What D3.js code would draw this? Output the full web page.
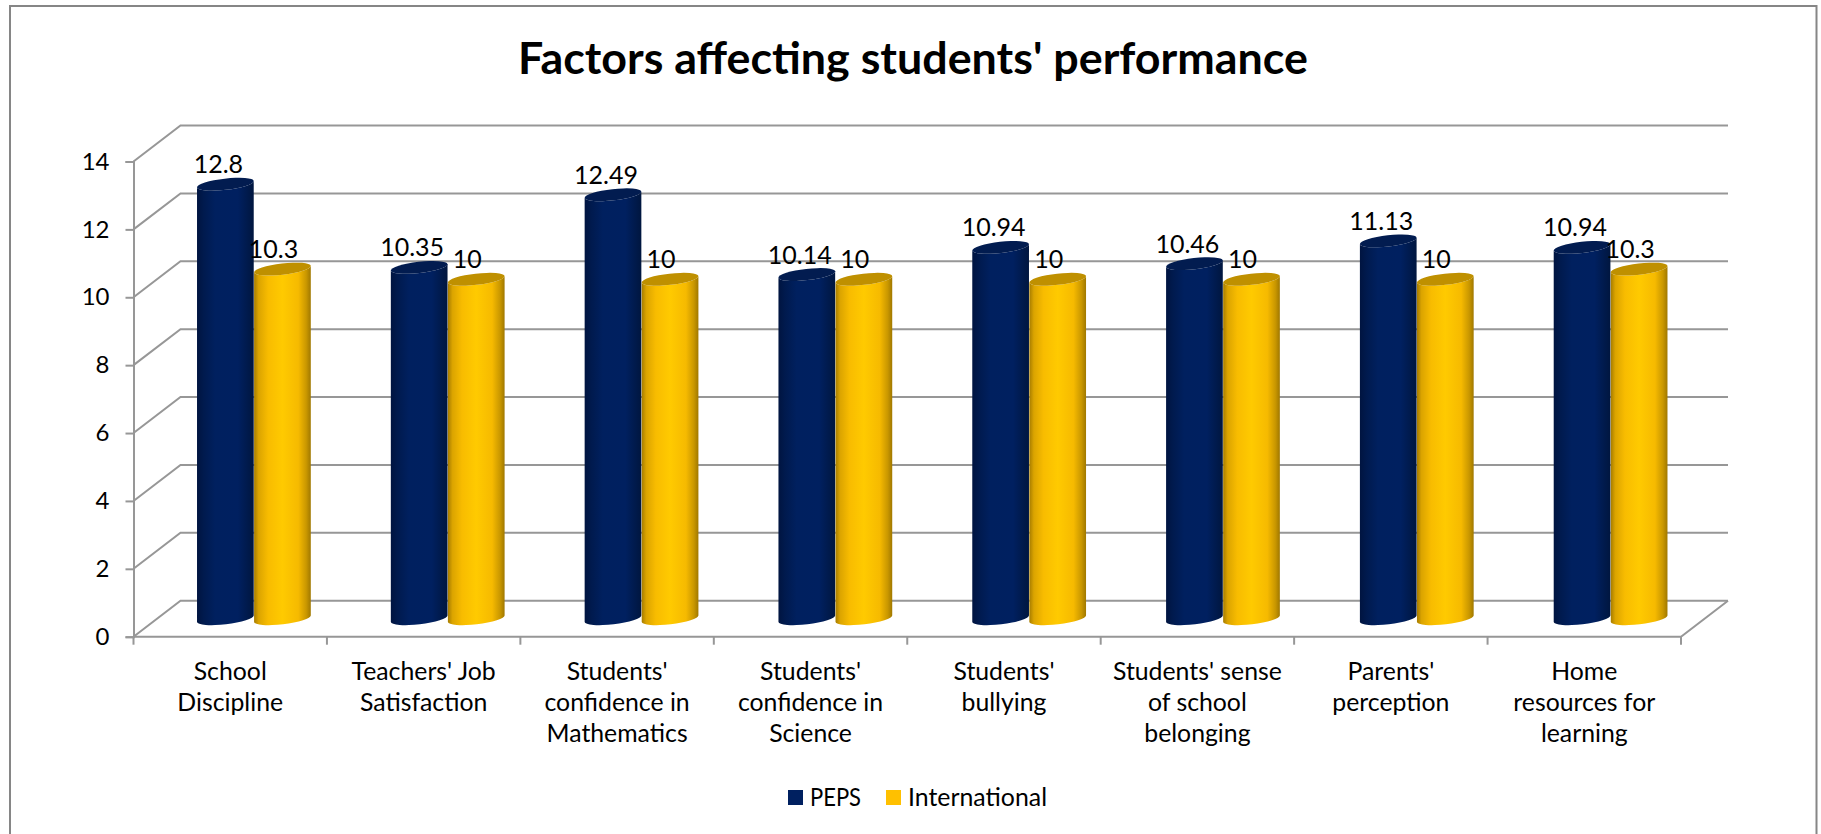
<!DOCTYPE html>
<html>
<head>
<meta charset="utf-8">
<script src="https://cdn.jsdelivr.net/npm/d3@7"></script>
<style>
    html, body { margin: 0; padding: 0; background: #fff; }
    svg { display: block; }
    text { font-family: Lato, "Open Sans", sans-serif; fill: #000; }
</style>
</head>
<body>
<svg id="chart"></svg>
<script>
const categories = [
    "School\nDiscipline",
    "Teachers' Job\nSatisfaction",
    "Students'\nconfidence in\nMathematics",
    "Students'\nconfidence in\nScience",
    "Students'\nbullying",
    "Students' sense\nof school\nbelonging",
    "Parents'\nperception",
    "Home\nresources for\nlearning",
]
const peps = [12.8, 10.35, 12.49, 10.14, 10.94, 10.46, 11.13, 10.94]
const international = [10.3, 10, 10, 10, 10, 10, 10, 10.3]
const seriesNames = ["PEPS", "International"]
const yTicks = [0, 2, 4, 6, 8, 10, 12, 14]

const width = 1821
const height = 834
const plot = {left: 133.5, right: 1681, top: 161.5, bottom: 636.7}
const depth = {x: 47, y: -36}
const gridColor = "#979797"

const svg = d3.select("#chart").attr("width", width).attr("height", height)

const x = d3.scaleBand(categories, [plot.left, plot.right])
const y = d3.scaleLinear([0, 14], [plot.bottom, plot.top])

// gradients fake the cylinder shading
const shades = [
    {top: "#021c50", legend: "#002060", stops: [[0, "#001440"], [0.12, "#001a4e"], [0.32, "#00205f"], [0.72, "#002060"], [1, "#00163f"]]},
    {top: "#bf9000", legend: "#ffc000", stops: [[0, "#a67c00"], [0.08, "#dba400"], [0.25, "#f8bc00"], [0.5, "#ffca00"], [0.78, "#f6ba00"], [0.92, "#c99700"], [1, "#a07800"]]},
]
const defs = svg.append("defs")
shades.forEach((s, i) => {
    defs.append("linearGradient").attr("id", `cyl${i}`)
        .selectAll("stop").data(s.stops).join("stop")
        .attr("offset", d => d[0])
        .attr("stop-color", d => d[1])
})

// frame, open at the bottom as in the picture
svg.append("path")
    .attr("d", `M10,${height}V6H1816.5V${height}`)
    .attr("fill", "none")
    .attr("stroke", "#868686")
    .attr("stroke-width", 2)

svg.append("text")
    .attr("x", 913)
    .attr("y", 74)
    .attr("text-anchor", "middle")
    .attr("font-size", 44.8)
    .attr("font-weight", 700)
    .text("Factors affecting students' performance")

// walls
const grid = svg.append("g")
    .attr("fill", "none")
    .attr("stroke", gridColor)
    .attr("stroke-width", 2)

grid.selectAll("path")
    .data(yTicks)
    .join("path")
    .attr("d", d => `M${plot.left},${y(d)}l${depth.x},${depth.y}H${plot.right + depth.x}`)

grid.append("path")
    .attr("d", `M${plot.left},${plot.bottom}H${plot.right}l${depth.x},${depth.y}`)

const yAxis = d3.axisLeft(y).tickValues(yTicks).tickSize(8).tickPadding(16).tickFormat(d3.format("d"))
svg.append("g")
    .attr("transform", `translate(${plot.left},0)`)
    .call(yAxis)
    .call(g => g.selectAll("path, line").attr("stroke", gridColor).attr("stroke-width", 2))
    .call(g => g.selectAll("text").attr("font-size", 24).attr("font-family", null))

const xAxis = d3.axisBottom(x).tickSize(0).tickPadding(24)
svg.append("g")
    .attr("transform", `translate(0,${plot.bottom})`)
    .call(xAxis)
    .call(g => g.select(".domain").remove())
    .call(g => g.selectAll("text")
        .attr("font-size", 24.8)
        .attr("font-family", null)
        .attr("dy", null)
        .each(function (d) {
            const label = d3.select(this).text(null)
            d.split("\n").forEach((line, i) => {
                label.append("tspan")
                    .attr("x", 0)
                    .attr("y", 43 + i * 31)
                    .text(line)
            })
        }))

// tick marks sit on the band edges, not on the centres
svg.append("g")
    .attr("stroke", gridColor)
    .attr("stroke-width", 2)
    .selectAll("line")
    .data([...categories.map(c => x(c)), plot.right])
    .join("line")
    .attr("x1", d => d)
    .attr("x2", d => d)
    .attr("y1", plot.bottom)
    .attr("y2", plot.bottom + 8)

// cylinders stand halfway into the depth, the bar row runs a touch wider than the axis
const midX = depth.x / 2
const midY = depth.y / 2
const barX = d3.scaleBand(categories, [plot.left + midX, plot.right + midX + 3])
const barW = x.bandwidth() * 0.295
const rx = barW / 2
const ry = 5.6
const tilt = -6.5
const rad = tilt * Math.PI / 180
const capX = rx * Math.cos(rad)
const capY = rx * Math.sin(rad)

const bars = categories.flatMap((c, i) => [peps[i], international[i]].map((v, s) => ({
    v, s,
    cx: barX(c) + barX.bandwidth() / 2 + (s === 0 ? -rx : rx),
})))

const cylinders = svg.append("g").selectAll("g").data(bars).join("g")

cylinders.append("path")
    .attr("fill", d => `url(#cyl${d.s})`)
    .attr("d", d => {
        const top = y(d.v) + midY
        const bottom = y(0) + midY
        return `M${d.cx - capX},${top - capY}L${d.cx - capX},${bottom - capY}`
            + `A${rx},${ry} ${tilt} 0 0 ${d.cx + capX},${bottom + capY}`
            + `L${d.cx + capX},${top + capY}`
            + `A${rx},${ry} ${tilt} 0 1 ${d.cx - capX},${top - capY}Z`
    })

cylinders.append("ellipse")
    .attr("rx", rx)
    .attr("ry", ry)
    .attr("fill", d => shades[d.s].top)
    .attr("transform", d => `translate(${d.cx},${y(d.v) + midY}) rotate(${tilt})`)

svg.append("g").selectAll("text").data(bars).join("text")
    .attr("x", d => d.cx - (d.s === 0 ? 7 : 9))
    .attr("y", d => y(d.v) + midY - 11)
    .attr("text-anchor", "middle")
    .attr("font-size", 25)
    .text(d => d.v)

// legend, Lato runs wider than the original face on capitals so the lengths are pinned
const legendX = d3.scaleOrdinal(seriesNames, [788, 886])
const legendLength = d3.scaleOrdinal(seriesNames, [51, 139])
const legend = svg.append("g").selectAll("g").data(seriesNames).join("g")
    .attr("transform", d => `translate(${legendX(d)},790)`)

legend.append("rect")
    .attr("width", 15)
    .attr("height", 15)
    .attr("fill", (d, i) => shades[i].legend)

legend.append("text")
    .attr("x", 22)
    .attr("y", 16)
    .attr("font-size", 24.8)
    .attr("textLength", d => legendLength(d))
    .attr("lengthAdjust", "spacingAndGlyphs")
    .text(d => d)
</script>
</body>
</html>
